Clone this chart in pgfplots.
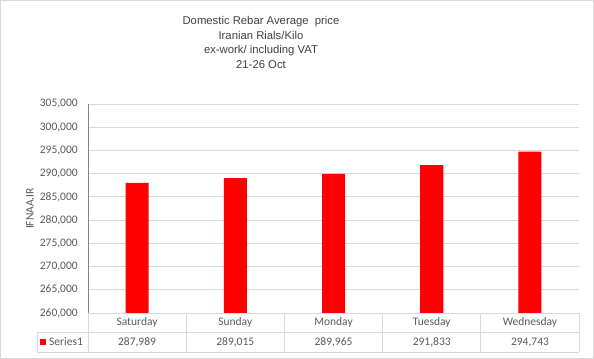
\documentclass[border=0pt]{standalone}
\usepackage{fontspec}
\setmainfont{Liberation Sans}
\newfontfamily\calfont{Carlito}
\usepackage{pgfplots}
\pgfplotsset{compat=1.18}
\definecolor{gridc}{HTML}{D9D9D9}
\definecolor{axc}{HTML}{868686}
\definecolor{txt}{HTML}{595959}
\definecolor{ttl}{HTML}{404040}
\begin{document}
\begin{tikzpicture}[x=1bp,y=1bp]
\draw[gridc, line width=0.8bp] (0.5,0.5) rectangle (593.5,358.5);
\node[align=center, font=\fontsize{11.3bp}{14.7bp}\selectfont, text=ttl] at (261,316.5)
  {Domestic Rebar Average\ \ price\\Iranian Rials/Kilo\\ex-work/ including VAT\\21-26 Oct};
\begin{axis}[
  at={(88bp,46bp)}, anchor=south west,
  scale only axis, width=491bp, height=209bp,
  xmin=-0.5, xmax=4.5, ymin=260000, ymax=305000,
  ytick={260000,265000,270000,275000,280000,285000,290000,295000,300000,305000},
  xtick={0,1,2,3,4},
  xticklabels={Saturday,Sunday,Monday,Tuesday,Wednesday},
  scaled y ticks=false,
  yticklabel={\pgfmathprintnumber[fixed,1000 sep={,},precision=0]{\tick}},
  /pgf/number format/assume math mode=true,
  yticklabel style={anchor=east, inner sep=0pt, xshift=-10bp, font=\calfont\fontsize{11.5bp}{13bp}\selectfont, text=txt},
  xticklabel style={anchor=center, inner sep=0pt, yshift=-9.5bp, font=\calfont\fontsize{11.5bp}{13bp}\selectfont, text=txt},
  major tick length=0pt,
  axis line style={draw=none},
  ymajorgrids, grid style={gridc, line width=0.8bp},
  clip mode=individual,
  ylabel={IFNAA.IR},
  every axis y label/.style={at={(axis description cs:-0.118,0.5)}, rotate=90, anchor=center, font=\calfont\fontsize{11.5bp}{13bp}\selectfont, text=txt},
]
\addplot[ybar, bar width=23bp, fill=red, draw=none] coordinates {(0,287989) (1,289015) (2,289965) (3,291833) (4,294743)};
\begin{scope}[font=\calfont\fontsize{11.5bp}{13bp}\selectfont, text=txt]
\node at (axis cs:0,260000) [yshift=-29bp] {287,989};
\node at (axis cs:1,260000) [yshift=-29bp] {289,015};
\node at (axis cs:2,260000) [yshift=-29bp] {289,965};
\node at (axis cs:3,260000) [yshift=-29bp] {291,833};
\node at (axis cs:4,260000) [yshift=-29bp] {294,743};
\end{scope}
\end{axis}
\begin{scope}[line width=0.8bp]
\draw[gridc] (88,46)--(579,46) (37,27)--(579,27) (37,7)--(579,7) (37,27)--(37,7) (88,46)--(88,7);
\foreach \k in {1,...,5} {\draw[gridc] ({88+98.2*\k},46)--({88+98.2*\k},7);}
\draw[axc] (88,255)--(88,46);
\end{scope}
\fill[red] (40,14) rectangle (46.5,20.5);
\node[anchor=west, inner sep=0pt, font=\calfont\fontsize{11.5bp}{13bp}\selectfont, text=txt] at (49,17) {Series1};
\end{tikzpicture}
\end{document}
